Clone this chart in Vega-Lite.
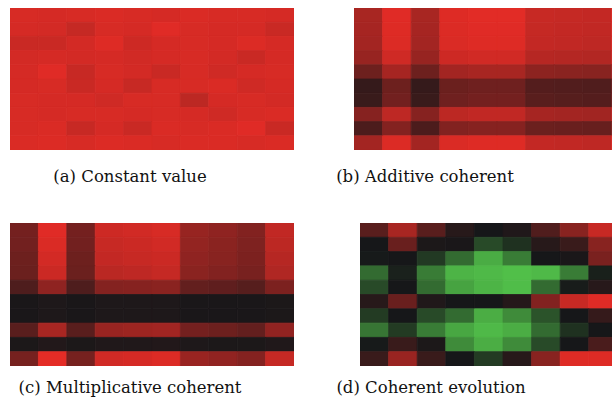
{
  "$schema": "https://vega.github.io/schema/vega-lite/v6.json",
  "background": "white",
  "padding": {"left": 10, "top": 8, "right": 0, "bottom": 0},
  "config": {
    "view": {"stroke": null},
    "title": {"orient": "bottom", "font": "DejaVu Serif", "fontSize": 16.5, "fontWeight": "normal", "color": "#111111", "offset": 16, "anchor": "middle"},
    "rect": {"strokeWidth": 0.8}
  },
  "datasets": {
    "a": [
      {"r":0,"c":0,"v":0.93},{"r":0,"c":1,"v":0.92},{"r":0,"c":2,"v":0.93},{"r":0,"c":3,"v":0.94},{"r":0,"c":4,"v":0.93},{"r":0,"c":5,"v":0.92},{"r":0,"c":6,"v":0.94},{"r":0,"c":7,"v":0.93},{"r":0,"c":8,"v":0.93},{"r":0,"c":9,"v":0.92},
      {"r":1,"c":0,"v":0.92},{"r":1,"c":1,"v":0.91},{"r":1,"c":2,"v":0.84},{"r":1,"c":3,"v":0.93},{"r":1,"c":4,"v":0.92},{"r":1,"c":5,"v":0.97},{"r":1,"c":6,"v":0.93},{"r":1,"c":7,"v":0.92},{"r":1,"c":8,"v":0.92},{"r":1,"c":9,"v":0.86},
      {"r":2,"c":0,"v":0.86},{"r":2,"c":1,"v":0.86},{"r":2,"c":2,"v":0.91},{"r":2,"c":3,"v":0.96},{"r":2,"c":4,"v":0.88},{"r":2,"c":5,"v":0.92},{"r":2,"c":6,"v":0.93},{"r":2,"c":7,"v":0.92},{"r":2,"c":8,"v":0.95},{"r":2,"c":9,"v":0.92},
      {"r":3,"c":0,"v":0.91},{"r":3,"c":1,"v":0.92},{"r":3,"c":2,"v":0.91},{"r":3,"c":3,"v":0.92},{"r":3,"c":4,"v":0.90},{"r":3,"c":5,"v":0.92},{"r":3,"c":6,"v":0.93},{"r":3,"c":7,"v":0.91},{"r":3,"c":8,"v":0.86},{"r":3,"c":9,"v":0.92},
      {"r":4,"c":0,"v":0.92},{"r":4,"c":1,"v":0.97},{"r":4,"c":2,"v":0.85},{"r":4,"c":3,"v":0.93},{"r":4,"c":4,"v":0.91},{"r":4,"c":5,"v":0.86},{"r":4,"c":6,"v":0.93},{"r":4,"c":7,"v":0.89},{"r":4,"c":8,"v":0.92},{"r":4,"c":9,"v":0.93},
      {"r":5,"c":0,"v":0.92},{"r":5,"c":1,"v":0.93},{"r":5,"c":2,"v":0.86},{"r":5,"c":3,"v":0.92},{"r":5,"c":4,"v":0.85},{"r":5,"c":5,"v":0.93},{"r":5,"c":6,"v":0.93},{"r":5,"c":7,"v":0.94},{"r":5,"c":8,"v":0.89},{"r":5,"c":9,"v":0.92},
      {"r":6,"c":0,"v":0.93},{"r":6,"c":1,"v":0.92},{"r":6,"c":2,"v":0.92},{"r":6,"c":3,"v":0.89},{"r":6,"c":4,"v":0.93},{"r":6,"c":5,"v":0.93},{"r":6,"c":6,"v":0.80},{"r":6,"c":7,"v":0.92},{"r":6,"c":8,"v":0.93},{"r":6,"c":9,"v":0.91},
      {"r":7,"c":0,"v":0.93},{"r":7,"c":1,"v":0.92},{"r":7,"c":2,"v":0.93},{"r":7,"c":3,"v":0.93},{"r":7,"c":4,"v":0.92},{"r":7,"c":5,"v":0.93},{"r":7,"c":6,"v":0.92},{"r":7,"c":7,"v":0.89},{"r":7,"c":8,"v":0.93},{"r":7,"c":9,"v":0.94},
      {"r":8,"c":0,"v":0.93},{"r":8,"c":1,"v":0.94},{"r":8,"c":2,"v":0.85},{"r":8,"c":3,"v":0.92},{"r":8,"c":4,"v":0.86},{"r":8,"c":5,"v":0.94},{"r":8,"c":6,"v":0.93},{"r":8,"c":7,"v":0.94},{"r":8,"c":8,"v":0.97},{"r":8,"c":9,"v":0.86},
      {"r":9,"c":0,"v":0.94},{"r":9,"c":1,"v":0.95},{"r":9,"c":2,"v":0.93},{"r":9,"c":3,"v":0.95},{"r":9,"c":4,"v":0.94},{"r":9,"c":5,"v":0.93},{"r":9,"c":6,"v":0.94},{"r":9,"c":7,"v":0.94},{"r":9,"c":8,"v":0.93},{"r":9,"c":9,"v":0.94}
    ],
    "b": [
      {"r":0,"c":0,"v":0.70},{"r":0,"c":1,"v":0.97},{"r":0,"c":2,"v":0.70},{"r":0,"c":3,"v":0.96},{"r":0,"c":4,"v":0.98},{"r":0,"c":5,"v":0.98},{"r":0,"c":6,"v":0.85},{"r":0,"c":7,"v":0.84},{"r":0,"c":8,"v":0.83},{"r":0,"c":9,"v":0.94},
      {"r":1,"c":0,"v":0.69},{"r":1,"c":1,"v":0.96},{"r":1,"c":2,"v":0.69},{"r":1,"c":3,"v":0.95},{"r":1,"c":4,"v":0.97},{"r":1,"c":5,"v":0.97},{"r":1,"c":6,"v":0.84},{"r":1,"c":7,"v":0.83},{"r":1,"c":8,"v":0.82},{"r":1,"c":9,"v":0.93},
      {"r":2,"c":0,"v":0.68},{"r":2,"c":1,"v":0.95},{"r":2,"c":2,"v":0.68},{"r":2,"c":3,"v":0.94},{"r":2,"c":4,"v":0.96},{"r":2,"c":5,"v":0.96},{"r":2,"c":6,"v":0.83},{"r":2,"c":7,"v":0.82},{"r":2,"c":8,"v":0.81},{"r":2,"c":9,"v":0.92},
      {"r":3,"c":0,"v":0.62},{"r":3,"c":1,"v":0.89},{"r":3,"c":2,"v":0.62},{"r":3,"c":3,"v":0.88},{"r":3,"c":4,"v":0.90},{"r":3,"c":5,"v":0.90},{"r":3,"c":6,"v":0.77},{"r":3,"c":7,"v":0.76},{"r":3,"c":8,"v":0.75},{"r":3,"c":9,"v":0.86},
      {"r":4,"c":0,"v":0.42},{"r":4,"c":1,"v":0.69},{"r":4,"c":2,"v":0.42},{"r":4,"c":3,"v":0.68},{"r":4,"c":4,"v":0.70},{"r":4,"c":5,"v":0.70},{"r":4,"c":6,"v":0.57},{"r":4,"c":7,"v":0.56},{"r":4,"c":8,"v":0.55},{"r":4,"c":9,"v":0.66},
      {"r":5,"c":0,"v":0.15},{"r":5,"c":1,"v":0.42},{"r":5,"c":2,"v":0.15},{"r":5,"c":3,"v":0.41},{"r":5,"c":4,"v":0.43},{"r":5,"c":5,"v":0.43},{"r":5,"c":6,"v":0.30},{"r":5,"c":7,"v":0.29},{"r":5,"c":8,"v":0.28},{"r":5,"c":9,"v":0.39},
      {"r":6,"c":0,"v":0.17},{"r":6,"c":1,"v":0.44},{"r":6,"c":2,"v":0.17},{"r":6,"c":3,"v":0.43},{"r":6,"c":4,"v":0.45},{"r":6,"c":5,"v":0.45},{"r":6,"c":6,"v":0.32},{"r":6,"c":7,"v":0.31},{"r":6,"c":8,"v":0.30},{"r":6,"c":9,"v":0.41},
      {"r":7,"c":0,"v":0.54},{"r":7,"c":1,"v":0.81},{"r":7,"c":2,"v":0.54},{"r":7,"c":3,"v":0.80},{"r":7,"c":4,"v":0.82},{"r":7,"c":5,"v":0.82},{"r":7,"c":6,"v":0.69},{"r":7,"c":7,"v":0.68},{"r":7,"c":8,"v":0.67},{"r":7,"c":9,"v":0.78},
      {"r":8,"c":0,"v":0.26},{"r":8,"c":1,"v":0.53},{"r":8,"c":2,"v":0.26},{"r":8,"c":3,"v":0.52},{"r":8,"c":4,"v":0.54},{"r":8,"c":5,"v":0.54},{"r":8,"c":6,"v":0.41},{"r":8,"c":7,"v":0.40},{"r":8,"c":8,"v":0.39},{"r":8,"c":9,"v":0.50},
      {"r":9,"c":0,"v":0.68},{"r":9,"c":1,"v":0.95},{"r":9,"c":2,"v":0.68},{"r":9,"c":3,"v":0.94},{"r":9,"c":4,"v":0.96},{"r":9,"c":5,"v":0.96},{"r":9,"c":6,"v":0.83},{"r":9,"c":7,"v":0.82},{"r":9,"c":8,"v":0.81},{"r":9,"c":9,"v":0.92}
    ],
    "c": [
      {"r":0,"c":0,"v":0.45},{"r":0,"c":1,"v":0.97},{"r":0,"c":2,"v":0.45},{"r":0,"c":3,"v":0.88},{"r":0,"c":4,"v":0.90},{"r":0,"c":5,"v":0.93},{"r":0,"c":6,"v":0.62},{"r":0,"c":7,"v":0.58},{"r":0,"c":8,"v":0.52},{"r":0,"c":9,"v":0.82},
      {"r":1,"c":0,"v":0.44},{"r":1,"c":1,"v":0.94},{"r":1,"c":2,"v":0.44},{"r":1,"c":3,"v":0.85},{"r":1,"c":4,"v":0.87},{"r":1,"c":5,"v":0.90},{"r":1,"c":6,"v":0.60},{"r":1,"c":7,"v":0.56},{"r":1,"c":8,"v":0.50},{"r":1,"c":9,"v":0.80},
      {"r":2,"c":0,"v":0.42},{"r":2,"c":1,"v":0.91},{"r":2,"c":2,"v":0.42},{"r":2,"c":3,"v":0.83},{"r":2,"c":4,"v":0.85},{"r":2,"c":5,"v":0.87},{"r":2,"c":6,"v":0.58},{"r":2,"c":7,"v":0.55},{"r":2,"c":8,"v":0.49},{"r":2,"c":9,"v":0.77},
      {"r":3,"c":0,"v":0.41},{"r":3,"c":1,"v":0.87},{"r":3,"c":2,"v":0.41},{"r":3,"c":3,"v":0.79},{"r":3,"c":4,"v":0.81},{"r":3,"c":5,"v":0.84},{"r":3,"c":6,"v":0.56},{"r":3,"c":7,"v":0.52},{"r":3,"c":8,"v":0.47},{"r":3,"c":9,"v":0.74},
      {"r":4,"c":0,"v":0.27},{"r":4,"c":1,"v":0.58},{"r":4,"c":2,"v":0.27},{"r":4,"c":3,"v":0.53},{"r":4,"c":4,"v":0.54},{"r":4,"c":5,"v":0.56},{"r":4,"c":6,"v":0.37},{"r":4,"c":7,"v":0.35},{"r":4,"c":8,"v":0.31},{"r":4,"c":9,"v":0.49},
      {"r":5,"c":0,"v":0.02},{"r":5,"c":1,"v":0.04},{"r":5,"c":2,"v":0.02},{"r":5,"c":3,"v":0.04},{"r":5,"c":4,"v":0.04},{"r":5,"c":5,"v":0.04},{"r":5,"c":6,"v":0.02},{"r":5,"c":7,"v":0.02},{"r":5,"c":8,"v":0.02},{"r":5,"c":9,"v":0.03},
      {"r":6,"c":0,"v":0.02},{"r":6,"c":1,"v":0.04},{"r":6,"c":2,"v":0.02},{"r":6,"c":3,"v":0.04},{"r":6,"c":4,"v":0.04},{"r":6,"c":5,"v":0.04},{"r":6,"c":6,"v":0.02},{"r":6,"c":7,"v":0.02},{"r":6,"c":8,"v":0.02},{"r":6,"c":9,"v":0.03},
      {"r":7,"c":0,"v":0.32},{"r":7,"c":1,"v":0.70},{"r":7,"c":2,"v":0.32},{"r":7,"c":3,"v":0.63},{"r":7,"c":4,"v":0.65},{"r":7,"c":5,"v":0.67},{"r":7,"c":6,"v":0.45},{"r":7,"c":7,"v":0.42},{"r":7,"c":8,"v":0.37},{"r":7,"c":9,"v":0.59},
      {"r":8,"c":0,"v":0.03},{"r":8,"c":1,"v":0.06},{"r":8,"c":2,"v":0.03},{"r":8,"c":3,"v":0.05},{"r":8,"c":4,"v":0.05},{"r":8,"c":5,"v":0.06},{"r":8,"c":6,"v":0.04},{"r":8,"c":7,"v":0.03},{"r":8,"c":8,"v":0.03},{"r":8,"c":9,"v":0.05},
      {"r":9,"c":0,"v":0.46},{"r":9,"c":1,"v":0.99},{"r":9,"c":2,"v":0.46},{"r":9,"c":3,"v":0.90},{"r":9,"c":4,"v":0.92},{"r":9,"c":5,"v":0.95},{"r":9,"c":6,"v":0.63},{"r":9,"c":7,"v":0.59},{"r":9,"c":8,"v":0.53},{"r":9,"c":9,"v":0.84}
    ],
    "d": [
      {"r":0,"c":0,"v":0.32},{"r":0,"c":1,"v":0.70},{"r":0,"c":2,"v":0.32},{"r":0,"c":3,"v":0.08},{"r":0,"c":4,"v":0.0},{"r":0,"c":5,"v":0.05},{"r":0,"c":6,"v":0.28},{"r":0,"c":7,"v":0.55},{"r":0,"c":8,"v":0.85},{"r":0,"c":9,"v":0.55},
      {"r":1,"c":0,"v":0.0},{"r":1,"c":1,"v":0.40},{"r":1,"c":2,"v":0.03},{"r":1,"c":3,"v":0.02},{"r":1,"c":4,"v":-0.30},{"r":1,"c":5,"v":-0.15},{"r":1,"c":6,"v":0.08},{"r":1,"c":7,"v":0.17},{"r":1,"c":8,"v":0.55},{"r":1,"c":9,"v":0.08},
      {"r":2,"c":0,"v":-0.02},{"r":2,"c":1,"v":0.0},{"r":2,"c":2,"v":-0.20},{"r":2,"c":3,"v":-0.49},{"r":2,"c":4,"v":-0.87},{"r":2,"c":5,"v":-0.59},{"r":2,"c":6,"v":0.0},{"r":2,"c":7,"v":0.02},{"r":2,"c":8,"v":0.48},{"r":2,"c":9,"v":0.0},
      {"r":3,"c":0,"v":-0.49},{"r":3,"c":1,"v":-0.06},{"r":3,"c":2,"v":-0.59},{"r":3,"c":3,"v":-0.92},{"r":3,"c":4,"v":-0.95},{"r":3,"c":5,"v":-0.98},{"r":3,"c":6,"v":-0.95},{"r":3,"c":7,"v":-0.59},{"r":3,"c":8,"v":-0.05},{"r":3,"c":9,"v":-0.49},
      {"r":4,"c":0,"v":-0.30},{"r":4,"c":1,"v":0.0},{"r":4,"c":2,"v":-0.49},{"r":4,"c":3,"v":-0.82},{"r":4,"c":4,"v":-0.92},{"r":4,"c":5,"v":-0.97},{"r":4,"c":6,"v":-0.49},{"r":4,"c":7,"v":-0.03},{"r":4,"c":8,"v":0.08},{"r":4,"c":9,"v":-0.06},
      {"r":5,"c":0,"v":0.08},{"r":5,"c":1,"v":0.40},{"r":5,"c":2,"v":0.05},{"r":5,"c":3,"v":0.0},{"r":5,"c":4,"v":0.0},{"r":5,"c":5,"v":0.07},{"r":5,"c":6,"v":0.52},{"r":5,"c":7,"v":0.85},{"r":5,"c":8,"v":0.97},{"r":5,"c":9,"v":0.82},
      {"r":6,"c":0,"v":-0.21},{"r":6,"c":1,"v":0.0},{"r":6,"c":2,"v":-0.30},{"r":6,"c":3,"v":-0.49},{"r":6,"c":4,"v":-0.88},{"r":6,"c":5,"v":-0.68},{"r":6,"c":6,"v":-0.35},{"r":6,"c":7,"v":0.0},{"r":6,"c":8,"v":0.15},{"r":6,"c":9,"v":-0.06},
      {"r":7,"c":0,"v":-0.55},{"r":7,"c":1,"v":-0.21},{"r":7,"c":2,"v":-0.59},{"r":7,"c":3,"v":-0.84},{"r":7,"c":4,"v":-0.95},{"r":7,"c":5,"v":-0.88},{"r":7,"c":6,"v":-0.49},{"r":7,"c":7,"v":-0.15},{"r":7,"c":8,"v":0.0},{"r":7,"c":9,"v":-0.21},
      {"r":8,"c":0,"v":-0.02},{"r":8,"c":1,"v":0.17},{"r":8,"c":2,"v":0.03},{"r":8,"c":3,"v":-0.68},{"r":8,"c":4,"v":-0.88},{"r":8,"c":5,"v":-0.68},{"r":8,"c":6,"v":-0.30},{"r":8,"c":7,"v":0.0},{"r":8,"c":8,"v":0.25},{"r":8,"c":9,"v":0.0},
      {"r":9,"c":0,"v":0.17},{"r":9,"c":1,"v":0.63},{"r":9,"c":2,"v":0.17},{"r":9,"c":3,"v":0.0},{"r":9,"c":4,"v":-0.21},{"r":9,"c":5,"v":0.08},{"r":9,"c":6,"v":0.55},{"r":9,"c":7,"v":0.96},{"r":9,"c":8,"v":0.96},{"r":9,"c":9,"v":0.90}
    ]
  },
  "spacing": 37,
  "vconcat": [
    {
      "spacing": 42,
      "hconcat": [
        {
          "data": {"name": "a"},
          "width": 284, "height": 142,
          "title": {"text": "(a) Constant value", "dx": -22, "offset": 19},
          "mark": {"type": "rect", "clip": true},
          "encoding": {
            "x": {"field": "c", "type": "ordinal", "axis": null, "scale": {"paddingInner": 0, "paddingOuter": 0}},
            "y": {"field": "r", "type": "ordinal", "axis": null, "scale": {"paddingInner": 0, "paddingOuter": 0}},
            "color": {"field": "v", "type": "quantitative", "legend": null, "scale": {"domain": [-1, 0, 1], "range": ["#52c24a", "#161719", "#e62c26"], "interpolate": "rgb"}},
            "stroke": {"field": "v", "type": "quantitative", "legend": null, "scale": {"domain": [-1, 0, 1], "range": ["#52c24a", "#161719", "#e62c26"], "interpolate": "rgb"}}
          }
        },
        {
          "data": {"name": "b"},
          "width": 276, "height": 142,
          "title": {"text": "(b) Additive coherent", "dx": -67, "offset": 19},
          "mark": {"type": "rect", "clip": true},
          "encoding": {
            "x": {"field": "c", "type": "ordinal", "axis": null, "scale": {"paddingInner": 0, "paddingOuter": 0, "range": [0, 286]}},
            "y": {"field": "r", "type": "ordinal", "axis": null, "scale": {"paddingInner": 0, "paddingOuter": 0}},
            "color": {"field": "v", "type": "quantitative", "legend": null, "scale": {"domain": [-1, 0, 1], "range": ["#52c24a", "#161719", "#e62c26"], "interpolate": "rgb"}},
            "stroke": {"field": "v", "type": "quantitative", "legend": null, "scale": {"domain": [-1, 0, 1], "range": ["#52c24a", "#161719", "#e62c26"], "interpolate": "rgb"}}
          }
        }
      ]
    },
    {
      "spacing": 42,
      "hconcat": [
        {
          "data": {"name": "c"},
          "width": 284, "height": 143,
          "title": {"text": "(c) Multiplicative coherent", "dx": -22, "offset": 14},
          "mark": {"type": "rect", "clip": true},
          "encoding": {
            "x": {"field": "c", "type": "ordinal", "axis": null, "scale": {"paddingInner": 0, "paddingOuter": 0}},
            "y": {"field": "r", "type": "ordinal", "axis": null, "scale": {"paddingInner": 0, "paddingOuter": 0}},
            "color": {"field": "v", "type": "quantitative", "legend": null, "scale": {"domain": [-1, 0, 1], "range": ["#52c24a", "#161719", "#e62c26"], "interpolate": "rgb"}},
            "stroke": {"field": "v", "type": "quantitative", "legend": null, "scale": {"domain": [-1, 0, 1], "range": ["#52c24a", "#161719", "#e62c26"], "interpolate": "rgb"}}
          }
        },
        {
          "data": {"name": "d"},
          "width": 276, "height": 143,
          "title": {"text": "(d) Coherent evolution", "dx": -67, "offset": 14},
          "mark": {"type": "rect", "clip": true},
          "encoding": {
            "x": {"field": "c", "type": "ordinal", "axis": null, "scale": {"paddingInner": 0, "paddingOuter": 0, "range": [0, 286]}},
            "y": {"field": "r", "type": "ordinal", "axis": null, "scale": {"paddingInner": 0, "paddingOuter": 0}},
            "color": {"field": "v", "type": "quantitative", "legend": null, "scale": {"domain": [-1, 0, 1], "range": ["#52c24a", "#161719", "#e62c26"], "interpolate": "rgb"}},
            "stroke": {"field": "v", "type": "quantitative", "legend": null, "scale": {"domain": [-1, 0, 1], "range": ["#52c24a", "#161719", "#e62c26"], "interpolate": "rgb"}}
          }
        }
      ]
    }
  ]
}
